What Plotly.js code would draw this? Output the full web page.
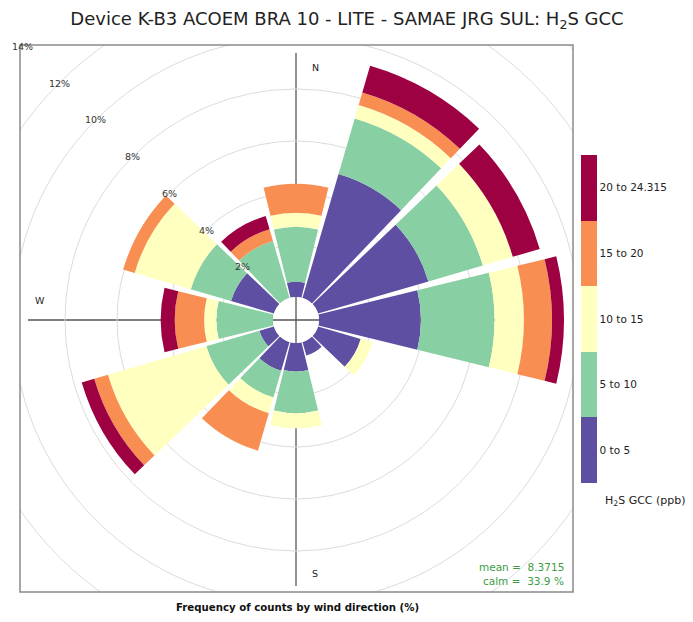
<!DOCTYPE html>
<html>
<head>
<meta charset="utf-8">
<script src="https://cdn.plot.ly/plotly-3.0.1.min.js"></script>
<style>
  html, body { margin: 0; padding: 0; width: 693px; height: 622px; overflow: hidden; background: #fff; }
  #chart { position: absolute; left: -110px; top: -90px; width: 820px; height: 820px; }
</style>
</head>
<body>
<div id="chart"></div>
<script>
// wind sectors (degrees, clockwise from north)
var directions = [0, 30, 60, 90, 120, 150, 180, 210, 240, 270, 300, 330];

// frequency (%) per sector for each H2S concentration band
var pct0to5   = [0.59, 4.96, 4.42, 3.92, 1.71, 0.54, 1.10, 1.15, 0.58, 0.00, 1.72, 0.00];
var pct5to10  = [2.11, 2.23, 2.18, 2.83, 0.00, 0.00, 1.60, 1.07, 2.13, 2.18, 1.61, 2.28];
var pct10to15 = [0.54, 0.54, 1.20, 1.13, 0.48, 0.00, 0.58, 0.63, 3.94, 0.47, 2.25, 0.00];
var pct15to20 = [1.11, 0.50, 0.00, 1.08, 0.00, 0.00, 0.00, 1.50, 0.55, 1.13, 0.46, 0.47];
var pct20to24 = [0.00, 1.07, 1.08, 0.46, 0.00, 0.00, 0.00, 0.00, 0.50, 0.54, 0.00, 0.53];

var binLabels = ['0 to 5', '5 to 10', '10 to 15', '15 to 20', '20 to 24.315'];
var binColors = ['#5E4FA2', '#88CFA4', '#FFFFBF', '#F98E52', '#9E0142'];
var gridTicks = [2, 4, 6, 8, 10, 12, 14];
var meanValue = '8.3715';
var calmValue = '33.9';

// page geometry (the plot div is bigger than the window and shifted)
var OX = 110, OY = 90, W = 820, H = 820;
var CX = 296, CY = 320;          // rose centre on the page
var HOLE_PX = 23, PX_PER_PCT = 26;
var RMAX = 14.6;
var RP = HOLE_PX + PX_PER_PCT * RMAX;
var BOX = { x0: 20, y0: 45, x1: 573, y1: 592 };
var FONT = 'DejaVu Sans';

function px(x) { return (x + OX) / W; }
function py(y) { return 1 - (y + OY) / H; }
function radiusPx(p) { return HOLE_PX + PX_PER_PCT * p; }

var series = [pct0to5, pct5to10, pct10to15, pct15to20, pct20to24];

var data = series.map(function(vals, i) {
    return {
        type: 'barpolar',
        r: vals,
        theta: directions,
        width: 27.5,
        name: binLabels[i],
        marker: { color: binColors[i], line: { width: 0 } },
        hoverinfo: 'skip'
    };
});

// colour key
var scale = [];
binColors.forEach(function(c, i) {
    scale.push([i / 5, c]);
    scale.push([(i + 1) / 5, c]);
});
data.push({
    type: 'scatterpolar',
    mode: 'markers',
    r: [0, 0, 0, 0, 0],
    theta: [0, 0, 0, 0, 0],
    hoverinfo: 'skip',
    marker: {
        size: 1,
        opacity: 0,
        color: [0.5, 1.5, 2.5, 3.5, 4.5],
        colorscale: scale,
        cmin: 0, cmax: 5,
        showscale: true,
        colorbar: {
            x: px(581), xanchor: 'left', xpad: 0,
            y: py(319), yanchor: 'middle', ypad: 0,
            len: 328, lenmode: 'pixels',
            thickness: 16, thicknessmode: 'pixels',
            outlinewidth: 0,
            ticks: '',
            ticklabelpad: 5,
            tickvals: [0.5, 1.5, 2.5, 3.5, 4.5],
            ticktext: binLabels,
            tickfont: { family: FONT, size: 10.5, color: '#222' }
        }
    }
});

var shapes = [
    // N-S / E-W axis lines
    { type: 'line', layer: 'below', xref: 'paper', yref: 'paper',
      x0: px(CX), x1: px(CX), y0: py(CY - 267), y1: py(CY + 266),
      line: { color: '#555', width: 1.3 } },
    { type: 'line', layer: 'below', xref: 'paper', yref: 'paper',
      x0: px(CX - 268), x1: px(CX + 267), y0: py(CY), y1: py(CY),
      line: { color: '#555', width: 1.3 } },
    // white masks outside the panel
    { type: 'rect', layer: 'above', xref: 'paper', yref: 'paper', x0: 0, x1: 1, y0: py(BOX.y0), y1: 1,
      fillcolor: '#fff', line: { width: 0 } },
    { type: 'rect', layer: 'above', xref: 'paper', yref: 'paper', x0: 0, x1: 1, y0: 0, y1: py(BOX.y1),
      fillcolor: '#fff', line: { width: 0 } },
    { type: 'rect', layer: 'above', xref: 'paper', yref: 'paper', x0: 0, x1: px(BOX.x0), y0: 0, y1: 1,
      fillcolor: '#fff', line: { width: 0 } },
    { type: 'rect', layer: 'above', xref: 'paper', yref: 'paper', x0: px(BOX.x1), x1: 1, y0: 0, y1: 1,
      fillcolor: '#fff', line: { width: 0 } },
    // panel frame
    { type: 'rect', layer: 'above', xref: 'paper', yref: 'paper',
      x0: px(BOX.x0), x1: px(BOX.x1), y0: py(BOX.y1), y1: py(BOX.y0),
      line: { color: '#8a8a8a', width: 1.5 } }
];

var annotations = [];
gridTicks.forEach(function(p) {
    var d = radiusPx(p) * Math.SQRT1_2;
    annotations.push({
        xref: 'paper', yref: 'paper', x: px(CX - d), y: py(CY - d),
        text: p + '%', showarrow: false, xanchor: 'center', yanchor: 'middle',
        font: { family: FONT, size: 9.5, color: '#333' }
    });
});

function label(txt, x, y, opts) {
    var a = {
        xref: 'paper', yref: 'paper', x: px(x), y: py(y), text: txt, showarrow: false,
        xanchor: 'center', yanchor: 'middle',
        font: { family: FONT, size: 9.5, color: '#222' }
    };
    for (var k in opts) a[k] = opts[k];
    annotations.push(a);
}

label('N', 315, 68);
label('S', 315, 573);
label('W', 40, 300);
label('mean =  ' + meanValue, 566, 567, { xanchor: 'right', font: { family: FONT, size: 10.5, color: '#3e9c45' } });
label('calm =  ' + calmValue + ' %', 566, 581, { xanchor: 'right', font: { family: FONT, size: 10.5, color: '#3e9c45' } });
label('H<sub>2</sub>S GCC (ppb)', 603, 501, { xanchor: 'left', font: { family: FONT, size: 11, color: '#222' } });
label('<b>Frequency of counts by wind direction (%)</b>', 297, 607, { font: { family: FONT, size: 10.2, color: '#111' } });

var layout = {
    width: W,
    height: H,
    margin: { l: 0, r: 0, t: 0, b: 0 },
    paper_bgcolor: '#fff',
    showlegend: false,
    title: {
        text: 'Device K-B3 ACOEM BRA 10 - LITE - SAMAE JRG SUL: H<sub>2</sub>S GCC',
        x: px(347), xanchor: 'center',
        y: py(19), yanchor: 'middle',
        font: { family: FONT, size: 18, color: '#222' }
    },
    polar: {
        domain: {
            x: [px(CX - RP), px(CX + RP)],
            y: [py(CY + RP), py(CY - RP)]
        },
        hole: HOLE_PX / RP,
        bgcolor: 'rgba(0,0,0,0)',
        barmode: 'stack',
        radialaxis: {
            range: [0, RMAX],
            tickvals: gridTicks,
            showticklabels: false,
            ticks: '',
            showline: false,
            gridcolor: '#dcdcdc',
            gridwidth: 1
        },
        angularaxis: {
            rotation: 90,
            direction: 'clockwise',
            showgrid: false,
            showline: false,
            showticklabels: false,
            ticks: ''
        }
    },
    shapes: shapes,
    annotations: annotations
};

Plotly.newPlot('chart', data, layout, { displayModeBar: false });
</script>
</body>
</html>
